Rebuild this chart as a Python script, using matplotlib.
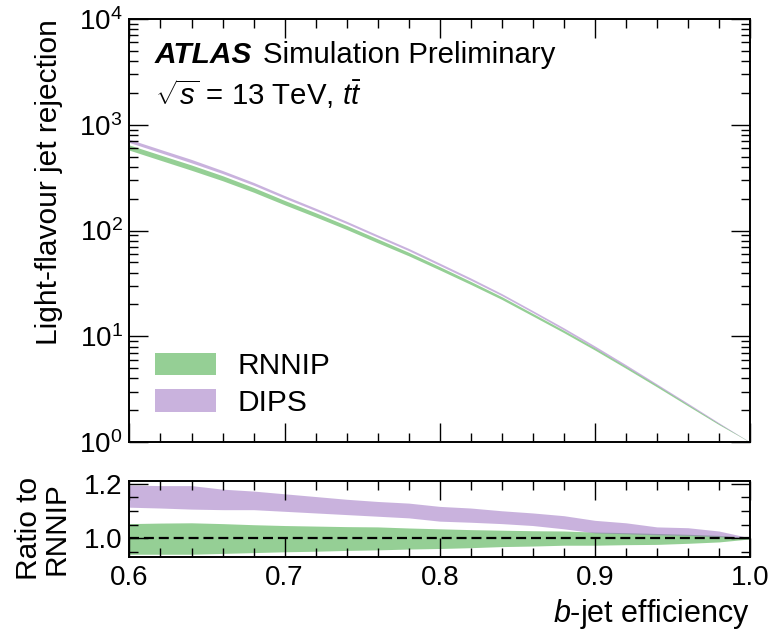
import matplotlib
matplotlib.use("Agg")
import matplotlib.pyplot as plt
import numpy as np
from matplotlib.ticker import MultipleLocator, LogLocator, NullFormatter, FormatStrFormatter
from matplotlib.patches import Patch

plt.rcParams['font.family'] = ['Liberation Sans', 'DejaVu Sans']
plt.rcParams['mathtext.fontset'] = 'custom'
plt.rcParams['mathtext.rm'] = 'Liberation Sans'
plt.rcParams['mathtext.it'] = 'Liberation Sans:italic'
plt.rcParams['mathtext.bf'] = 'Liberation Sans:bold'

# b-jet efficiency working points
eff = [0.60, 0.62, 0.64, 0.66, 0.68, 0.70, 0.72, 0.74, 0.76, 0.78, 0.80,
       0.82, 0.84, 0.86, 0.88, 0.90, 0.92, 0.94, 0.96, 0.98, 1.00]
# RNNIP light-flavour rejection (nominal)
rnnip_rej = [610, 490, 394, 313, 243, 184, 141, 107, 80, 60, 44,
             32, 23, 16, 11.1, 7.6, 5.1, 3.4, 2.24, 1.48, 1.0]
# RNNIP band, ratio to nominal
rnnip_lo = [0.942, 0.942, 0.942, 0.945, 0.948, 0.951, 0.953, 0.956, 0.958, 0.961, 0.963,
            0.966, 0.970, 0.972, 0.975, 0.975, 0.977, 0.978, 0.982, 0.987, 0.998]
rnnip_hi = [1.054, 1.056, 1.057, 1.054, 1.050, 1.047, 1.045, 1.043, 1.042, 1.038, 1.035,
            1.032, 1.030, 1.028, 1.027, 1.023, 1.021, 1.018, 1.015, 1.011, 1.002]
# DIPS band, ratio to RNNIP
dips_lo = [1.114, 1.111, 1.107, 1.105, 1.105, 1.099, 1.093, 1.087, 1.081, 1.075, 1.063,
           1.059, 1.054, 1.047, 1.035, 1.020, 1.017, 1.013, 1.011, 1.006, 1.000]
dips_hi = [1.195, 1.193, 1.193, 1.180, 1.173, 1.163, 1.153, 1.143, 1.135, 1.129, 1.117,
           1.111, 1.101, 1.093, 1.083, 1.066, 1.057, 1.042, 1.039, 1.027, 1.002]

x = np.array(eff)
rej = np.array(rnnip_rej)
c_rnnip = 'tab:green'
c_dips = 'tab:purple'
fs_tick = 20
fs_lab = 21.5

fig = plt.figure(figsize=(7.72, 6.32), dpi=100)
ax = fig.add_axes([0.1677, 0.3006, 0.8037, 0.6693])
rax = fig.add_axes([0.1677, 0.1187, 0.8037, 0.1203], sharex=ax)

ax.fill_between(x, rej * np.array(rnnip_lo), rej * np.array(rnnip_hi),
                color=c_rnnip, alpha=0.5, lw=0)
ax.fill_between(x, rej * np.array(dips_lo), rej * np.array(dips_hi),
                color=c_dips, alpha=0.5, lw=0)
ax.set_yscale('log')
ax.set_ylim(1, 1e4)
ax.set_xlim(0.6, 1.0)

rax.fill_between(x, rnnip_lo, rnnip_hi, color=c_rnnip, alpha=0.5, lw=0)
rax.fill_between(x, dips_lo, dips_hi, color=c_dips, alpha=0.5, lw=0)
rax.axhline(1.0, color='black', lw=1.6, ls=(0, (4.5, 2.2)))
rax.set_ylim(0.932, 1.21)
rax.yaxis.set_major_locator(MultipleLocator(0.2))
rax.yaxis.set_minor_locator(MultipleLocator(0.05))
rax.yaxis.set_major_formatter(FormatStrFormatter('%.1f'))
rax.xaxis.set_major_locator(MultipleLocator(0.1))
rax.xaxis.set_minor_locator(MultipleLocator(0.02))
rax.xaxis.set_major_formatter(FormatStrFormatter('%.1f'))

ax.yaxis.set_major_locator(LogLocator(base=10, numticks=10))
ax.yaxis.set_minor_locator(LogLocator(base=10, subs=np.arange(2, 10), numticks=20))
ax.yaxis.set_minor_formatter(NullFormatter())
plt.setp(ax.get_xticklabels(), visible=False)

for a in (ax, rax):
    a.tick_params(which='both', direction='in', top=True, right=True, labelsize=fs_tick)
    a.tick_params(which='major', length=13.5, width=1.0)
    a.tick_params(which='minor', length=6.5, width=1.0)
    a.tick_params(axis='x', pad=6)
    a.tick_params(axis='y', pad=5)
    for s in a.spines.values():
        s.set_linewidth(1.4)

ax.set_ylabel('Light-flavour jet rejection', fontsize=fs_lab, loc='top')
ax.yaxis.set_label_coords(-0.107, 1.0)
rax.set_ylabel('Ratio to\nRNNIP', fontsize=fs_lab, linespacing=1.0)
rax.yaxis.set_label_coords(-0.095, 0.37)
rax.set_xlabel('$b$-jet efficiency', fontsize=22, loc='right', labelpad=4)

ax.text(0.041, 0.896, 'ATLAS', transform=ax.transAxes, fontsize=21.5,
        fontweight='bold', fontstyle='italic', va='baseline')
ax.text(0.215, 0.896, 'Simulation Preliminary', transform=ax.transAxes,
        fontsize=21.2, va='baseline')
ax.text(0.041, 0.797, r'$\sqrt{s}$ = 13 TeV, $t\bar{t}$', transform=ax.transAxes,
        fontsize=21.2, va='baseline')

handles = [Patch(facecolor=c_rnnip, alpha=0.5, lw=0, label='RNNIP'),
           Patch(facecolor=c_dips, alpha=0.5, lw=0, label='DIPS')]
ax.legend(handles=handles, loc='lower left', bbox_to_anchor=(0.031, 0.045),
          frameon=False, fontsize=fs_lab, handlelength=2.07, handleheight=0.77,
          handletextpad=0.7, labelspacing=0.29, borderpad=0.2, borderaxespad=0)

fig.savefig('out.png', dpi=100)
